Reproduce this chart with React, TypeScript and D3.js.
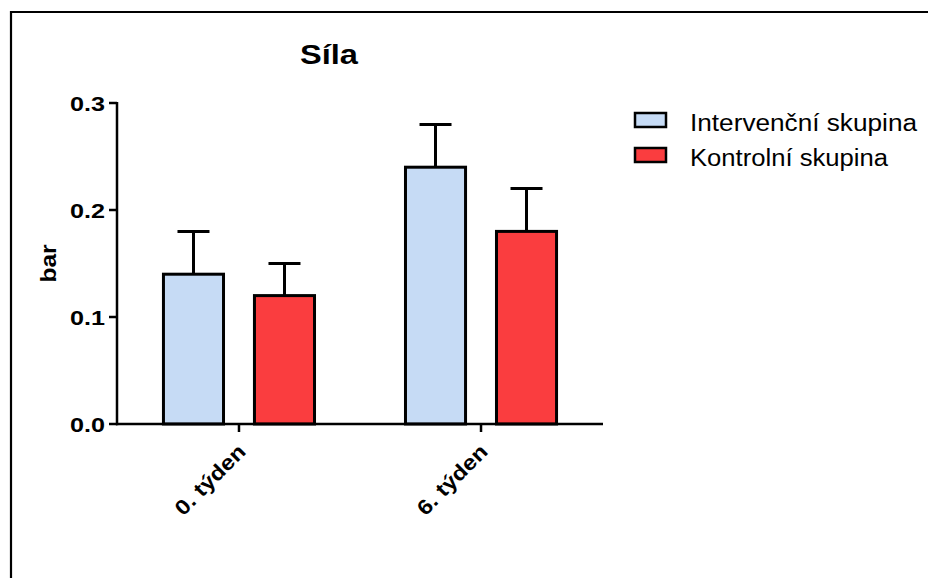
import React from "react";
import * as d3 from "d3";

const categories = ["0. týden", "6. týden"];
const seriesNames = ["Intervenční skupina", "Kontrolní skupina"];
const seriesColors = ["#C6DBF5", "#FA3D3F"];
const intervention = [0.14, 0.24];
const interventionErr = [0.04, 0.04];
const control = [0.12, 0.18];
const controlErr = [0.03, 0.04];
const yTicks = [0.0, 0.1, 0.2, 0.3];

const values = [intervention, control];
const errors = [interventionErr, controlErr];

const W = 928;
const H = 578;
const FONT = "'Liberation Sans', Arial, sans-serif";

export default function App() {
  const x0 = d3.scaleBand<string>().domain(categories).range([117, 603]).paddingInner(0).paddingOuter(0.004);
  const bw = x0.bandwidth();
  const x1 = d3
    .scaleBand<string>()
    .domain(seriesNames)
    .range([bw / 2 - 91, bw / 2 + 91])
    .paddingInner(0.34)
    .paddingOuter(0.17);
  const y = d3.scaleLinear().domain([0, 0.3]).range([424, 103]);
  const capW = 32;
  const legendLens = [227, 198];

  return (
    <svg width={W} height={H} style={{ position: "absolute", left: 0, top: 0, background: "#fff" }}>
      <rect x={0} y={0} width={W} height={H} fill="#fff" />
      {/* frame */}
      <path d={`M11,${H} L11,12 L${W},12`} fill="none" stroke="#000" strokeWidth={2.2} />
      {/* title */}
      <text
        x={329 - 29}
        y={64}
        fontFamily={FONT}
        fontWeight="bold"
        fontSize={28}
        textLength={58}
        lengthAdjust="spacingAndGlyphs"
      >
        Síla
      </text>
      {/* bars */}
      {categories.map((c, ci) => (
        <g key={c} transform={`translate(${x0(c)},0)`}>
          {seriesNames.map((s, si) => {
            const v = values[si][ci];
            const e = errors[si][ci];
            const bx = x1(s)!;
            const w = x1.bandwidth();
            const cx = bx + w / 2;
            return (
              <g key={s}>
                <line x1={cx} x2={cx} y1={y(v)} y2={y(v + e)} stroke="#000" strokeWidth={3} />
                <line x1={cx - capW / 2} x2={cx + capW / 2} y1={y(v + e)} y2={y(v + e)} stroke="#000" strokeWidth={3} />
                <rect x={bx} y={y(v)} width={w} height={y(0) - y(v)} fill={seriesColors[si]} stroke="#000" strokeWidth={3} />
              </g>
            );
          })}
        </g>
      ))}
      {/* y axis */}
      <line x1={117} x2={117} y1={y(0.3) - 1} y2={y(0) + 1.25} stroke="#000" strokeWidth={2.5} />
      {yTicks.map((t) => (
        <g key={t}>
          <line x1={109} x2={117} y1={y(t)} y2={y(t)} stroke="#000" strokeWidth={2.5} />
          <text
            x={105 - 35}
            y={y(t) + 7.5}
            fontFamily={FONT}
            fontWeight="bold"
            fontSize={20.5}
            textLength={35}
            lengthAdjust="spacingAndGlyphs"
          >
            {d3.format(".1f")(t)}
          </text>
        </g>
      ))}
      <text
        transform={`translate(56,${y(0.15) + 19}) rotate(-90)`}
        fontFamily={FONT}
        fontWeight="bold"
        fontSize={22}
        textLength={38}
        lengthAdjust="spacingAndGlyphs"
      >
        bar
      </text>
      {/* x axis */}
      <line x1={116} x2={603} y1={y(0)} y2={y(0)} stroke="#000" strokeWidth={2.5} />
      {categories.map((c) => {
        const cx = x0(c)! + bw / 2;
        return (
          <g key={c}>
            <line x1={cx} x2={cx} y1={y(0)} y2={y(0) + 8} stroke="#000" strokeWidth={2.5} />
            <text
              transform={`translate(${cx + 8},${y(0) + 29}) rotate(-45) translate(-90,0)`}
              fontFamily={FONT}
              fontWeight="bold"
              fontSize={21}
              textLength={90}
              lengthAdjust="spacingAndGlyphs"
            >
              {c}
            </text>
          </g>
        );
      })}
      {/* legend */}
      {seriesNames.map((s, i) => (
        <g key={s} transform={`translate(635,${113 + i * 35})`}>
          <rect x={0} y={0} width={31} height={14} fill={seriesColors[i]} stroke="#000" strokeWidth={2.5} />
          <text
            x={55}
            y={18}
            fontFamily={FONT}
            fontSize={23}
            textLength={legendLens[i]}
            lengthAdjust="spacingAndGlyphs"
          >
            {s}
          </text>
        </g>
      ))}
    </svg>
  );
}
